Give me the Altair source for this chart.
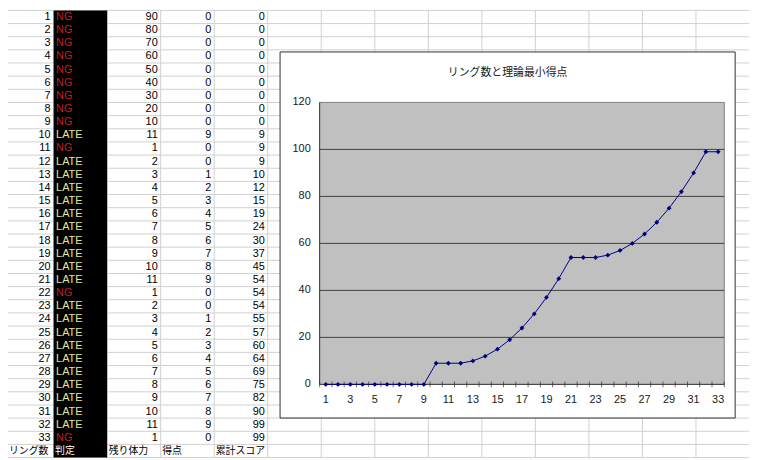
import altair as alt
import pandas as pd

RINGS = [1, 2, 3, 4, 5, 6, 7, 8, 9, 10, 11, 12, 13, 14, 15, 16, 17,
         18, 19, 20, 21, 22, 23, 24, 25, 26, 27, 28, 29, 30, 31, 32, 33]
JUDGE = ["NG", "NG", "NG", "NG", "NG", "NG", "NG", "NG", "NG", "LATE", "NG",
         "LATE", "LATE", "LATE", "LATE", "LATE", "LATE", "LATE", "LATE", "LATE",
         "LATE", "NG", "LATE", "LATE", "LATE", "LATE", "LATE", "LATE", "LATE",
         "LATE", "LATE", "LATE", "NG"]
HP = [90, 80, 70, 60, 50, 40, 30, 20, 10, 11, 1, 2, 3, 4, 5, 6, 7, 8, 9, 10,
      11, 1, 2, 3, 4, 5, 6, 7, 8, 9, 10, 11, 1]
POINTS = [0, 0, 0, 0, 0, 0, 0, 0, 0, 9, 0, 0, 1, 2, 3, 4, 5, 6, 7, 8,
          9, 0, 0, 1, 2, 3, 4, 5, 6, 7, 8, 9, 0]
TOTAL = [0, 0, 0, 0, 0, 0, 0, 0, 0, 9, 9, 9, 10, 12, 15, 19, 24, 30, 37, 45,
         54, 54, 54, 55, 57, 60, 64, 69, 75, 82, 90, 99, 99]
HEADERS = ["リング数", "判定", "残り体力", "得点", "累計スコア"]
Y_TICKS = [0, 20, 40, 60, 80, 100, 120]
X_LABELS = [1, 3, 5, 7, 9, 11, 13, 15, 17, 19, 21, 23, 25, 27, 29, 31, 33]
TITLE = "リング数と理論最小得点"

W, H = 749, 452
FONT = "Liberation Sans"
JP_FONT = "Noto Sans CJK JP"
JUDGE_COLORS = {"NG": "#c42020", "LATE": "#e4e49c"}

# worksheet grid (14 columns x 34 rows); x shifted by the 8px page margin
SHEET_X = alt.Scale(domain=[0, 14], range=[-8, 749.5], nice=False, zero=False)
SHEET_Y = alt.Scale(domain=[0, 34], range=[0, 452], nice=False, zero=False)
# embedded chart plot area
PLOT_X = alt.Scale(domain=[0.5, 33.5], range=[315, 724], nice=False, zero=False)
PLOT_Y = alt.Scale(domain=[0, 120], range=[378, 93], nice=False, zero=False)

n = len(RINGS)
rows = [i + 0.5 for i in range(n)]

# --- worksheet ---
vlines = pd.DataFrame({"c": list(range(1, 15)), "y0": 0, "y1": 34})
hlines = pd.DataFrame({"r": list(range(0, 35)), "x0": 0, "x1": 14})

grid_v = alt.Chart(vlines).mark_rule(color="#d0d0d0", strokeWidth=1).encode(
    x=alt.X("c:Q", scale=SHEET_X, axis=None),
    y=alt.Y("y0:Q", scale=SHEET_Y, axis=None),
    y2="y1:Q",
)
grid_h = alt.Chart(hlines).mark_rule(color="#d0d0d0", strokeWidth=1).encode(
    y=alt.Y("r:Q", scale=SHEET_Y, axis=None),
    x=alt.X("x0:Q", scale=SHEET_X, axis=None),
    x2="x1:Q",
)
black_col = alt.Chart(pd.DataFrame({"x0": [1], "x1": [2], "y0": [0], "y1": [34]})).mark_rect(
    color="black"
).encode(
    x=alt.X("x0:Q", scale=SHEET_X, axis=None),
    x2="x1:Q",
    y=alt.Y("y0:Q", scale=SHEET_Y, axis=None),
    y2="y1:Q",
)

nums = pd.concat([
    pd.DataFrame({"row": rows, "col": 1, "txt": [str(v) for v in RINGS]}),
    pd.DataFrame({"row": rows, "col": 3, "txt": [str(v) for v in HP]}),
    pd.DataFrame({"row": rows, "col": 4, "txt": [str(v) for v in POINTS]}),
    pd.DataFrame({"row": rows, "col": 5, "txt": [str(v) for v in TOTAL]}),
])
num_text = alt.Chart(nums).mark_text(
    align="right", baseline="middle", dx=-3, font=FONT, fontSize=11, color="black"
).encode(
    x=alt.X("col:Q", scale=SHEET_X, axis=None),
    y=alt.Y("row:Q", scale=SHEET_Y, axis=None),
    text="txt:N",
)

judge = pd.DataFrame({"row": rows, "col": 1, "txt": JUDGE,
                      "c": [JUDGE_COLORS[j] for j in JUDGE]})
judge_text = alt.Chart(judge).mark_text(
    align="left", baseline="middle", dx=2.5, font=FONT, fontSize=11
).encode(
    x=alt.X("col:Q", scale=SHEET_X, axis=None),
    y=alt.Y("row:Q", scale=SHEET_Y, axis=None),
    text="txt:N",
    color=alt.Color("c:N", scale=None),
)

# header row; the first label starts at the visible left edge of the sheet
head = pd.DataFrame({"row": n + 0.5, "col": list(range(len(HEADERS))), "txt": HEADERS,
                     "c": ["black", "white", "black", "black", "black"]})
head_text = alt.Chart(head).transform_filter("datum.col > 0").mark_text(
    align="left", baseline="middle", dx=1.5, font=JP_FONT, fontSize=10
).encode(
    x=alt.X("col:Q", scale=SHEET_X, axis=None),
    y=alt.Y("row:Q", scale=SHEET_Y, axis=None),
    text="txt:N",
    color=alt.Color("c:N", scale=None),
)
head_first = alt.Chart(head).transform_filter("datum.col == 0").mark_text(
    align="left", baseline="middle", dx=9, font=JP_FONT, fontSize=10, color="black"
).encode(
    x=alt.X("col:Q", scale=SHEET_X, axis=None),
    y=alt.Y("row:Q", scale=SHEET_Y, axis=None),
    text="txt:N",
)

# --- chart object ---
one = pd.DataFrame({"t": [TITLE]})
frame = alt.Chart(one).mark_rect(fill="white", stroke="#303030", strokeWidth=1).encode(
    x=alt.value(275), x2=alt.value(735), y=alt.value(42), y2=alt.value(412)
)
title = alt.Chart(one).mark_text(font=JP_FONT, fontSize=11, color="#202020").encode(
    x=alt.value(505), y=alt.value(63), text="t:N"
)

plot_bg = alt.Chart(pd.DataFrame({"x0": [0.5], "x1": [33.5], "y0": [0], "y1": [120]})).mark_rect(
    fill="#c0c0c0", stroke="#808080", strokeWidth=1
).encode(
    x=alt.X("x0:Q", scale=PLOT_X, axis=None),
    x2="x1:Q",
    y=alt.Y("y0:Q", scale=PLOT_Y, axis=None),
    y2="y1:Q",
)
gl = pd.DataFrame({"v": Y_TICKS[:-1], "x0": 0.5, "x1": 33.5})
gridlines = alt.Chart(gl).mark_rule(color="#404040", strokeWidth=1).encode(
    y=alt.Y("v:Q", scale=PLOT_Y, axis=None),
    x=alt.X("x0:Q", scale=PLOT_X, axis=None),
    x2="x1:Q",
)
yaxis_line = alt.Chart(pd.DataFrame({"x": [0.5], "y0": [0], "y1": [120]})).mark_rule(
    color="#404040", strokeWidth=1
).encode(
    x=alt.X("x:Q", scale=PLOT_X, axis=None),
    y=alt.Y("y0:Q", scale=PLOT_Y, axis=None),
    y2="y1:Q",
)
bounds = pd.DataFrame({"b": [r - 0.5 for r in RINGS] + [RINGS[-1] + 0.5], "y": 0})
xticks = alt.Chart(bounds).mark_tick(
    orient="vertical", color="#303030", size=6, thickness=1
).encode(
    x=alt.X("b:Q", scale=PLOT_X, axis=None),
    y=alt.Y("y:Q", scale=PLOT_Y, axis=None),
)

series = pd.DataFrame({"ring": RINGS, "total": TOTAL})
line = alt.Chart(series).mark_line(color="#000080", strokeWidth=1).encode(
    x=alt.X("ring:Q", scale=PLOT_X, axis=None),
    y=alt.Y("total:Q", scale=PLOT_Y, axis=None),
)
points = alt.Chart(series).mark_point(
    shape="diamond", filled=True, color="#000080", size=24, opacity=1
).encode(
    x=alt.X("ring:Q", scale=PLOT_X, axis=None),
    y=alt.Y("total:Q", scale=PLOT_Y, axis=None),
)

ylab = alt.Chart(pd.DataFrame({"v": Y_TICKS})).mark_text(
    align="right", baseline="middle", font=FONT, fontSize=11, color="#202020"
).encode(
    x=alt.value(306),
    y=alt.Y("v:Q", scale=PLOT_Y, axis=None),
    text="v:Q",
)
xlab = alt.Chart(pd.DataFrame({"v": X_LABELS})).mark_text(
    align="center", baseline="middle", font=FONT, fontSize=11, color="#202020"
).encode(
    x=alt.X("v:Q", scale=PLOT_X, axis=None),
    y=alt.value(394),
    text="v:Q",
)

chart = alt.layer(
    grid_v, grid_h, black_col, num_text, judge_text, head_text, head_first,
    frame, title, plot_bg, gridlines, yaxis_line, xticks, line, points, ylab, xlab,
).resolve_scale(
    x="independent", y="independent", color="independent"
).properties(
    width=W, height=H, autosize=alt.AutoSizeParams(type="none"), padding=0
).configure_view(
    stroke=None
)

chart.save("out.html", embed_options={"renderer": "svg", "actions": False})
